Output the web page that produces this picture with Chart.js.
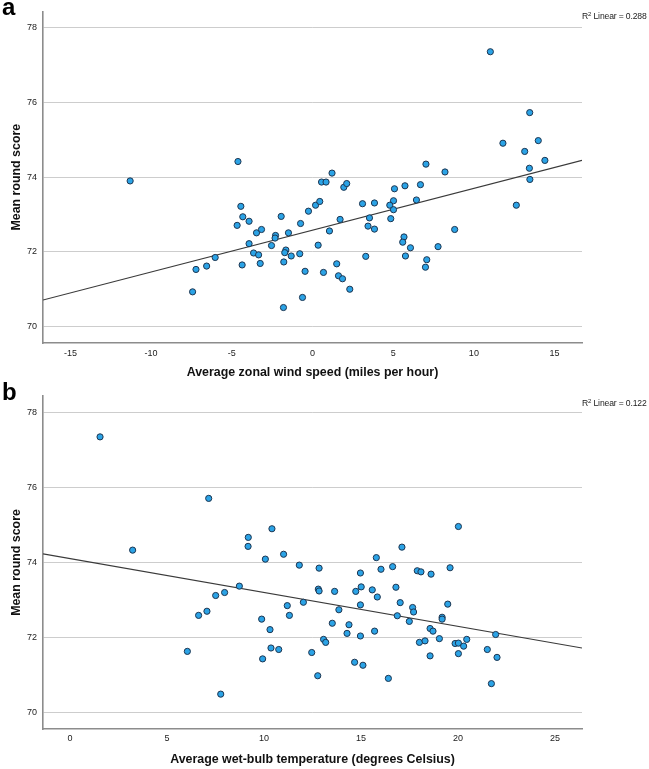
<!DOCTYPE html>
<html>
<head>
<meta charset="utf-8">
<script src="https://cdn.jsdelivr.net/npm/chart.js@4"></script>
<style>
  html, body { margin: 0; padding: 0; background: #fff; }
  body { width: 649px; height: 769px; position: relative; overflow: hidden; font-family: "Liberation Sans", Arial, sans-serif; }
  canvas { position: absolute; left: 0; }
  #ca { top: 0; }
  #cb { top: 382px; }
  .panel { position: absolute; left: 2px; font-weight: bold; font-size: 24px; line-height: 1; color: #000; }
  .r2 { position: absolute; left: 582px; font-size: 8.6px; letter-spacing: -0.15px; line-height: 1; color: #222; white-space: nowrap; }
  .r2 sup { font-size: 6px; vertical-align: 3px; line-height: 0; }
</style>
</head>
<body>
<canvas id="ca" width="649" height="382"></canvas>
<canvas id="cb" width="649" height="387"></canvas>
<div class="panel" style="top:-5px">a</div>
<div class="panel" style="top:380px">b</div>
<div class="r2" style="top:12px">R<sup>2</sup> Linear = 0.288</div>
<div class="r2" style="top:399px">R<sup>2</sup> Linear = 0.122</div>
<script>
// ---- Panel a: average zonal wind speed vs mean round score ----
const windA = [-11.3,-4.62,-7.43,-7.22,-6.56,-6.03,-4.67,-4.44,-4.32,-3.93,-4.36,-3.93,-3.65,-3.34,-3.24,-3.47,-3.16,-2.54,-2.29,-2.32,
  -1.94,-1.65,-1.72,-1.78,-1.80,-1.32,-1.49,-0.74,-0.79,-0.46,-0.62,-0.25,0.19,0.45,0.35,0.68,0.56,0.84,1.21,1.94,
  2.12,1.71,1.05,1.50,1.61,1.86,2.31,3.10,3.84,3.53,3.44,3.84,3.30,5.08,5.73,6.69,7.03,8.21,5.02,4.79,
  5.02,6.44,4.85,5.67,5.59,6.07,5.76,7.78,8.81,7.08,7.00,11.02,11.80,13.46,13.99,13.15,14.40,13.44,13.47,12.63];
const scoreA = [73.90,74.42,70.93,71.53,71.62,71.85,72.71,73.22,72.94,72.82,71.65,72.22,71.97,71.92,71.69,72.51,72.60,72.17,72.44,72.37,
  72.95,72.05,71.98,71.73,70.51,71.89,72.51,72.76,71.95,71.48,70.78,73.09,73.25,73.35,72.18,71.45,73.87,73.87,74.11,73.73,
  73.83,72.87,72.56,71.68,71.36,71.28,71.00,73.29,73.31,72.91,72.69,72.61,71.88,73.69,73.77,73.80,74.35,74.14,73.37,73.25,
  73.13,73.39,72.89,72.40,72.26,72.11,71.89,72.14,72.60,71.79,71.59,77.36,74.91,75.73,74.98,74.69,74.45,74.24,73.94,73.25];
const fitAx = [-16.7, 16.7];
const fitAy = [70.71, 74.45];
const xTicksA = [-15,-10,-5,0,5,10,15];

// ---- Panel b: average wet-bulb temperature vs mean round score ----
const tempB = [1.55,3.23,7.15,6.05,6.63,7.06,7.51,7.97,8.73,7.77,9.19,9.18,10.41,10.07,11.01,11.82,12.84,12.80,12.84,11.20,
  11.31,12.03,9.88,10.31,10.36,10.76,9.93,12.46,12.77,13.07,13.18,13.64,13.86,13.52,14.38,14.28,20.02,17.11,15.79,14.97,
  16.03,16.63,17.90,18.09,18.61,19.59,14.73,15.01,15.58,15.84,16.80,17.02,14.97,16.87,17.66,17.71,17.49,19.47,19.18,19.18,
  18.56,18.71,19.04,14.97,15.70,18.01,18.30,19.85,20.02,20.29,20.45,21.94,21.51,22.01,18.56,20.02,14.67,15.10,16.41,21.72];
const scoreB = [77.35,74.33,75.71,71.63,72.59,72.70,73.12,73.20,73.37,70.49,74.67,74.43,74.90,74.09,74.22,73.93,73.85,73.29,73.24,72.85,
  72.59,72.94,72.49,72.21,71.72,71.68,71.43,71.60,70.98,71.95,71.87,73.23,72.74,72.38,72.34,72.11,74.96,74.41,74.13,73.72,
  73.82,73.89,73.78,73.75,73.69,73.86,73.23,73.35,73.27,73.08,73.34,72.93,72.87,72.58,72.80,72.68,72.43,72.89,72.54,72.49,
  72.24,72.17,71.97,72.04,72.17,71.87,71.91,71.84,71.85,71.77,71.95,72.08,71.68,71.47,71.51,71.57,71.34,71.26,70.91,70.77];
const fitBx = [-1.39, 26.39];
const fitBy = [74.23, 71.72];
const xTicksB = [0,5,10,15,20,25];

const yTicks = [70,72,74,76,78];
const yMin = 69.56, yMax = 78.44;

const FONT = "'Liberation Sans', Arial, sans-serif";

function pts(xs, ys) { return xs.map((x, i) => ({ x: x, y: ys[i] })); }

function makeChart(id, xs, ys, fx, fy, xTicks, xTitle, padTop, xAxisH, tickPad) {
  const ctx = document.getElementById(id);
  return new Chart(ctx, {
    type: 'scatter',
    data: {
      datasets: [
        {
          type: 'line',
          data: pts(fx, fy),
          borderColor: '#3a3a3a',
          borderWidth: 1.1,
          pointRadius: 0,
          fill: false,
          order: 2
        },
        {
          data: pts(xs, ys),
          backgroundColor: '#2ba3e6',
          borderColor: '#1d3550',
          borderWidth: 1,
          pointRadius: 3.1,
          order: 1
        }
      ]
    },
    options: {
      responsive: false,
      animation: false,
      devicePixelRatio: 1,
      layout: { padding: { top: padTop, right: 67, left: 0, bottom: 0 } },
      plugins: { legend: { display: false }, tooltip: { enabled: false } },
      scales: {
        x: {
          type: 'linear',
          min: fx[0], max: fx[1],
          afterBuildTicks: (s) => { s.ticks = xTicks.map(v => ({ value: v })); },
          afterFit: (s) => { s.height = xAxisH; },
          grid: { display: false, drawTicks: false },
          border: { display: true, color: '#8c8c8c', width: 1.6 },
          ticks: { color: '#222', font: { family: FONT, size: 9 }, padding: tickPad, maxRotation: 0 },
          title: { display: true, text: xTitle, color: '#111', font: { family: FONT, size: 12.4, weight: 'bold' }, padding: { top: 0, bottom: 1.5 } }
        },
        y: {
          type: 'linear',
          min: yMin, max: yMax,
          afterBuildTicks: (s) => { s.ticks = yTicks.map(v => ({ value: v })); },
          afterFit: (s) => { s.width = 43; },
          grid: { color: '#cdcdcd', lineWidth: 1, drawTicks: false },
          border: { display: true, color: '#8c8c8c', width: 1.6 },
          ticks: { color: '#222', font: { family: FONT, size: 9 }, padding: 6 },
          title: { display: true, text: 'Mean round score', color: '#111', font: { family: FONT, size: 12.4, weight: 'bold' }, padding: { top: 9.5, bottom: 0 } }
        }
      }
    }
  });
}

makeChart('ca', windA, scoreA, fitAx, fitAy, xTicksA, 'Average zonal wind speed (miles per hour)', 10, 39, 5);
makeChart('cb', tempB, scoreB, fitBx, fitBy, xTicksB, 'Average wet-bulb temperature (degrees Celsius)', 14, 40, 4);
</script>
</body>
</html>
